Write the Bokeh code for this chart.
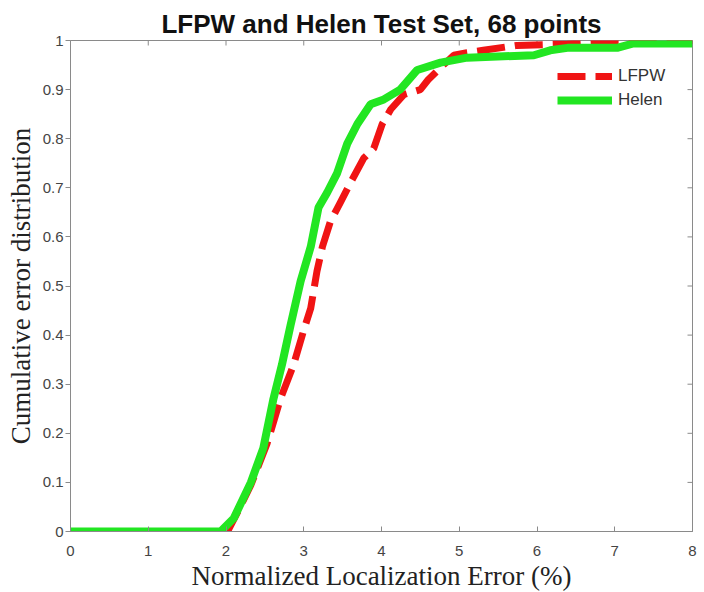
import math
from bokeh.plotting import figure
from bokeh.models import (FixedTicker, NumeralTickFormatter, Range1d,
                          Legend, LegendItem)
from bokeh.embed import file_html
from bokeh.resources import INLINE

# ---- data ----
lfpw_err = [0.0, 2.02, 2.15, 2.32, 2.53, 2.70, 2.87, 3.00, 3.09, 3.17, 3.24, 3.34,
            3.47, 3.60, 3.77, 3.90, 4.01, 4.12, 4.29, 4.50, 4.60, 4.76, 4.93, 5.10,
            5.31, 5.74, 6.39, 7.03, 8.0]
lfpw_cum = [0.0, 0.0, 0.04, 0.095, 0.18, 0.27, 0.34, 0.41, 0.455, 0.53, 0.58, 0.63,
            0.67, 0.71, 0.76, 0.78, 0.83, 0.86, 0.89, 0.90, 0.92, 0.945, 0.97, 0.975,
            0.98, 0.99, 0.993, 1.0, 1.0]

helen_err = [0.0, 1.93, 2.10, 2.32, 2.48, 2.61, 2.72, 2.83, 2.96, 3.09, 3.19, 3.30,
             3.43, 3.56, 3.69, 3.86, 4.03, 4.24, 4.46, 4.76, 5.10, 5.96, 6.17, 6.39,
             7.03, 7.24, 8.0]
helen_cum = [0.0, 0.0, 0.027, 0.10, 0.17, 0.27, 0.34, 0.42, 0.51, 0.58, 0.66, 0.69,
             0.73, 0.79, 0.83, 0.87, 0.88, 0.90, 0.94, 0.955, 0.965, 0.97, 0.98, 0.985,
             0.985, 0.994, 0.994]

x_ticks = [0, 1, 2, 3, 4, 5, 6, 7, 8]
y_ticks = [0, 0.1, 0.2, 0.3, 0.4, 0.5, 0.6, 0.7, 0.8, 0.9, 1.0]
x_min, x_max = 0, 8
y_min, y_max = 0, 1

title_text = "LFPW and Helen Test Set, 68 points"
x_label = "Normalized Localization Error (%)"
y_label = "Cumulative error distribution"

AXIS_GREY = "#8a8a8a"
TICK_TEXT = "#444444"

p = figure(frame_width=622, frame_height=491,
           min_border_left=70, min_border_right=12, min_border_top=40, min_border_bottom=61,
           x_range=Range1d(x_min, x_max), y_range=Range1d(y_min, y_max),
           output_backend="svg", toolbar_location=None, title=title_text)

p.background_fill_color = "white"
p.border_fill_color = "white"
p.outline_line_color = AXIS_GREY
p.xgrid.visible = False
p.ygrid.visible = False

p.title.align = "center"
p.title.text_font = "Liberation Sans"
p.title.text_font_style = "bold"
p.title.text_font_size = "26px"
p.title.text_color = "#111111"
p.title.standoff = 4

# bottom axis
xa = p.xaxis[0]
xa.ticker = FixedTicker(ticks=x_ticks)
xa.axis_label = x_label
xa.axis_label_text_font = "Liberation Serif"
xa.axis_label_text_font_style = "normal"
xa.axis_label_text_font_size = "27px"
xa.axis_label_text_color = "#222222"
xa.axis_label_standoff = 2
xa.major_label_text_font = "Liberation Sans"
xa.major_label_text_font_size = "15px"
xa.major_label_text_color = TICK_TEXT
xa.major_label_standoff = 14
xa.major_tick_in = 5
xa.major_tick_out = 0
xa.minor_tick_line_color = None
xa.axis_line_color = AXIS_GREY
xa.major_tick_line_color = AXIS_GREY

# left axis
ya = p.yaxis[0]
ya.ticker = FixedTicker(ticks=y_ticks)
ya.formatter = NumeralTickFormatter(format="0.[0]")
ya.axis_label = y_label
ya.axis_label_text_font = "Liberation Serif"
ya.axis_label_text_font_style = "normal"
ya.axis_label_text_font_size = "27px"
ya.axis_label_text_color = "#222222"
ya.axis_label_standoff = 4
ya.major_label_text_font = "Liberation Sans"
ya.major_label_text_font_size = "15px"
ya.major_label_text_color = TICK_TEXT
ya.major_label_standoff = 2
ya.major_tick_in = 0
ya.major_tick_out = 5
ya.minor_tick_line_color = None
ya.axis_line_color = AXIS_GREY
ya.major_tick_line_color = AXIS_GREY

# inner tick marks on the right and top edges of the box (half clipped by the frame)
p.scatter(x=[x_max] * len(y_ticks), y=y_ticks, marker="dash", size=10,
          line_color=AXIS_GREY, line_width=1)
p.scatter(x=x_ticks, y=[y_max] * len(x_ticks), marker="dash", size=10, angle=math.pi / 2,
          line_color=AXIS_GREY, line_width=1)

r_lfpw = p.line(lfpw_err, lfpw_cum, line_color="#f01414", line_width=7, line_dash="28 10")
r_helen = p.line(helen_err, helen_cum, line_color="#22e622", line_width=8)

legend = Legend(items=[LegendItem(label="LFPW", renderers=[r_lfpw]),
                       LegendItem(label="Helen", renderers=[r_helen])],
                location=(487, 421), glyph_width=55, glyph_height=20,
                label_height=20, label_standoff=6, spacing=4, padding=0, margin=0,
                label_text_font="Liberation Sans", label_text_font_size="17px",
                label_text_color="#333333", border_line_alpha=0,
                background_fill_alpha=0)
p.add_layout(legend)

open("out.html", "w").write(file_html(p, INLINE))
